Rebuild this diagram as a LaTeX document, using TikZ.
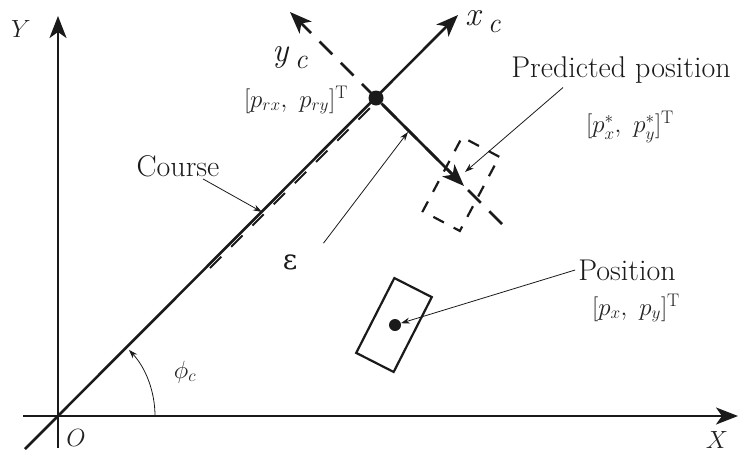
\documentclass[tikz,border=0pt]{standalone}
\usepackage{fontspec}
\newfontfamily\grkfont{DejaVu Serif}
\usetikzlibrary{arrows.meta,calc}
\definecolor{fgInk}{HTML}{1A1A1A}
\definecolor{fgMath}{HTML}{222222}
\tikzset{
  axisarr/.style={line width=2.6pt, draw=fgInk, -{Stealth[length=22pt,width=17pt,inset=6pt]}},
  crsdash/.style={line width=2pt, draw=fgInk, dash pattern=on 16pt off 14pt},
  ycdash/.style={line width=2.5pt, draw=fgInk, dash pattern=on 18pt off 12pt},
  pin/.style={-{Stealth[length=9pt,width=6pt]}, line width=0.8pt, draw=fgInk},
  txtlbl/.style={font=\fontsize{30}{34}\selectfont, inner sep=0pt, text=fgInk},
  mathlbl/.style={font=\fontsize{26}{30}\selectfont, inner sep=0pt, text=fgMath},
  axlbl/.style={font=\fontsize{25}{28}\selectfont, inner sep=0pt, text=fgMath},
  posbox/.style={draw=fgInk, line width=2.2pt, minimum width=42pt, minimum height=84pt, inner sep=0pt},
  dotnode/.style={circle, fill=fgInk, inner sep=0pt},
}
\begin{document}
\begin{tikzpicture}[x=1pt, y=-1pt]
    \useasboundingbox (0,0) rectangle (739,456);
    % ---------- axes ----------
    \coordinate (org) at (58,416);
    \coordinate (xlo) at (23,416);  \coordinate (xhi) at (738,416);
    \coordinate (ylo) at (58,448);  \coordinate (yhi) at (58,16);
    \draw[axisarr] (xlo) -- (xhi);
    \draw[axisarr] (ylo) -- (yhi);
    \node[axlbl] (xlab) at (717,440) {$X$};
    \node[axlbl] (ylab) at (21,29) {$Y$};
    \node[axlbl] (olab) at (76,438) {$O$};
    % ---------- course frame ----------
    \coordinate (crsLo) at (25,449); \coordinate (crsHi) at (458,15);
    \coordinate (ycLo) at (502,224); \coordinate (ycHi) at (290,12);
    \coordinate (epsTip) at (464,186);
    \draw[crsdash] (210,268) -- (378,100);
    \draw[ycdash, -{Stealth[length=22pt,width=17pt,inset=6pt]}] (ycLo) -- (ycHi);
    \draw[axisarr] (crsLo) -- (crsHi);
    \node[dotnode, minimum size=15pt] (ref) at (376,98) {};
    \draw[axisarr] (ref) -- (epsTip);
    \node[font=\fontsize{34}{38}\selectfont, inner sep=0pt, text=fgInk] (xc) at (483,22) {\textit{x}\,\raisebox{-7pt}{\fontsize{28}{30}\selectfont\textit{c}}};
    \node[font=\fontsize{34}{38}\selectfont, inner sep=0pt, text=fgInk] (yc) at (290,58) {\textit{y}\,\raisebox{-7pt}{\fontsize{28}{30}\selectfont\textit{c}}};
    \node[mathlbl] (refxy) at (296,100) {$[p_{rx},\ p_{ry}]^{\mathrm{T}}$};
    % ---------- angle ----------
    \draw[pin] (155,416) arc[start angle=0, end angle=-43, radius=97];
    \node[axlbl, font=\fontsize{23}{26}\selectfont] (phi) at (185,372) {$\phi_c$};
    % ---------- boxes ----------
    \node[posbox, dash pattern=on 12pt off 11pt, rotate=-28] (pred) at (461,184) {};
    \node[posbox, rotate=-27] (pos) at (394,325) {};
    \node[dotnode, minimum size=12pt] (posdot) at (395,325) {};
    % ---------- labels ----------
    \node[txtlbl] (crsTxt) at (178,166) {Course};
    \node[txtlbl, font=\grkfont\fontsize{28}{32}\selectfont] (eps) at (290,262) {ε};
    \node[txtlbl] (predTxt) at (621,70) {Predicted position};
    \node[mathlbl] (predxy) at (630,127) {$[p_x^*,\ p_y^*]^{\mathrm{T}}$};
    \node[txtlbl] (posTxt) at (627,270) {Position};
    \node[mathlbl] (posxy) at (636,308) {$[p_x,\ p_y]^{\mathrm{T}}$};
    \coordinate (crsTip) at (262,212);
    \coordinate (epsPt) at (408,132);
    \coordinate (predTip) at (465,172);
    \draw[pin] ([xshift=25pt, yshift=-2pt]crsTxt.south) -- (crsTip);
    \draw[pin] ([shift={(26,-11)}]eps.north east) -- (epsPt);
    \draw[pin] ([xshift=-58pt, yshift=-4pt]predTxt.south) -- (predTip);
    \draw[pin] ([xshift=-3pt]posTxt.west) -- (posdot);
\end{tikzpicture}
\end{document}
